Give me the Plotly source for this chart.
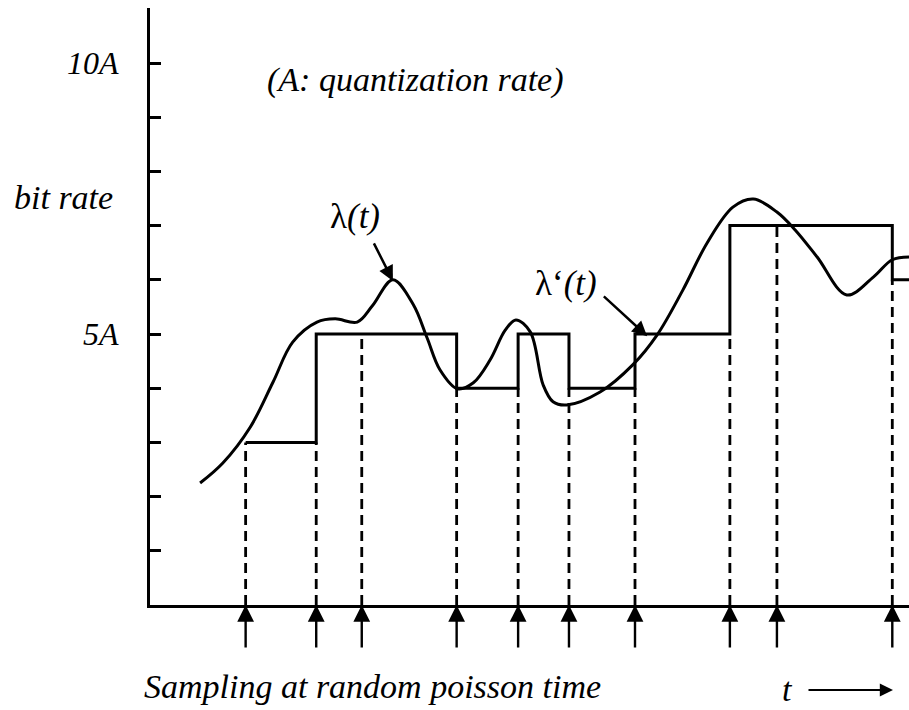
import plotly.graph_objects as go

# ---- data (time t in arbitrary units 0..10, rate in units of A) ----
sample_times = [1.26, 2.19, 2.79, 4.04, 4.85, 5.52, 6.39, 7.64, 8.26, 9.78]
quant_levels = [3, 5, 5, 4, 5, 4, 5, 7, 7, 6]
t_end = 10.0

curve_t = [0.66, 0.96, 1.32, 1.62, 1.88, 2.20, 2.44, 2.73, 2.93, 3.20, 3.47, 3.65,
           3.82, 4.05, 4.26, 4.48, 4.68, 4.82, 5.01, 5.18, 5.31, 5.49, 5.93, 6.36,
           6.68, 7.02, 7.34, 7.68, 7.95, 8.26, 8.50, 8.79, 9.18, 9.53, 9.78, 10.0]
curve_rate = [2.25, 2.62, 3.28, 4.11, 4.85, 5.22, 5.28, 5.22, 5.52, 6.00, 5.54, 4.93,
              4.34, 3.99, 4.10, 4.52, 5.07, 5.26, 5.04, 4.06, 3.75, 3.69, 3.93, 4.43,
              4.98, 5.81, 6.68, 7.34, 7.49, 7.25, 6.92, 6.42, 5.72, 6.05, 6.37, 6.42]

tick_vals = [1, 2, 3, 4, 5, 6, 7, 8, 9, 10]
tick_text = ["", "", "", "", "5A", "", "", "", "", "10A"]

FONT = "Liberation Serif"
BLACK = "black"

fig = go.Figure()

# dashed sampling lines
dx, dy = [], []
prev = None
for t, lv in zip(sample_times, quant_levels):
    top = lv if prev is None else min(prev, lv)
    dx += [t, t, None]
    dy += [0, top, None]
    prev = lv
fig.add_trace(go.Scatter(x=dx, y=dy, mode="lines",
                         line=dict(color=BLACK, width=2.8, dash="10px,6px"),
                         hoverinfo="skip", showlegend=False))

# quantized step rate lambda'(t)
fig.add_trace(go.Scatter(x=sample_times + [t_end], y=quant_levels + [quant_levels[-1]],
                         mode="lines", line=dict(color=BLACK, width=3, shape="hv"),
                         showlegend=False, cliponaxis=False))

# continuous rate lambda(t)
fig.add_trace(go.Scatter(x=curve_t, y=curve_rate, mode="lines",
                         line=dict(color=BLACK, width=3, shape="spline", smoothing=1.0),
                         showlegend=False, cliponaxis=False))

annotations = []
# sampling arrows below the time axis
for t in sample_times:
    annotations.append(dict(x=t, y=0, xref="x", yref="y", text="", showarrow=True,
                            ax=0, ay=44, arrowhead=2, arrowsize=1.4, arrowwidth=2.4,
                            arrowcolor=BLACK))

ital = dict(family=FONT, size=34, color=BLACK, style="italic")
annotations += [
    dict(x=3.5, y=9.69, xref="x", yref="y", text="(A: quantization rate)",
         showarrow=False, font=ital),
    dict(x=0, y=7.51, xref="paper", yref="y", text="bit rate", showarrow=False,
         xanchor="right", xshift=-35, font=ital),
    dict(x=2.70, y=7.16, xref="x", yref="y", text="λ<i>(t)</i>", showarrow=False,
         font=dict(family=FONT, size=35, color=BLACK)),
    dict(x=3.20, y=5.98, ax=2.94, ay=6.70, xref="x", yref="y", axref="x", ayref="y",
         text="", showarrow=True, arrowhead=2, arrowsize=1.2, arrowwidth=2.5,
         arrowcolor=BLACK),
    dict(x=5.48, y=5.94, xref="x", yref="y", text="λ‘<i>(t)</i>", showarrow=False,
         font=dict(family=FONT, size=35, color=BLACK)),
    dict(x=6.55, y=4.96, ax=5.96, ay=5.72, xref="x", yref="y", axref="x", ayref="y",
         text="", showarrow=True, arrowhead=2, arrowsize=1.2, arrowwidth=2.5,
         arrowcolor=BLACK),
    dict(x=2.93, y=-0.137, xref="x", yref="paper", yanchor="middle",
         text="Sampling at random poisson time", showarrow=False, font=ital),
    dict(x=(795 - 150) / 759, y=-0.142, xref="paper", yref="paper", yanchor="middle",
         text="t", showarrow=False, font=ital),
    dict(x=(893 - 150) / 759, y=-0.1424, xref="paper", yref="paper", text="",
         showarrow=True, ax=-86, ay=0, arrowhead=2, arrowsize=1.2, arrowwidth=2.2,
         arrowcolor=BLACK),
]

fig.update_layout(
    width=909, height=710,
    margin=dict(l=150, r=0, t=8, b=105, pad=0),
    paper_bgcolor="white", plot_bgcolor="white",
    showlegend=False,
    annotations=annotations,
    xaxis=dict(range=[0, 10], showline=True, linewidth=3, linecolor=BLACK,
               showgrid=False, zeroline=False, showticklabels=False, ticks="",
               fixedrange=True),
    yaxis=dict(range=[0, 597 / 54.2], showline=True, linewidth=3, linecolor=BLACK,
               showgrid=False, zeroline=False, ticks="inside", ticklen=11,
               tickwidth=3, tickcolor=BLACK, tickvals=tick_vals, ticktext=tick_text,
               tickfont=dict(family=FONT, size=32, color=BLACK, style="italic"),
               ticklabelstandoff=22, fixedrange=True),
)

fig.write_html("out.html")
